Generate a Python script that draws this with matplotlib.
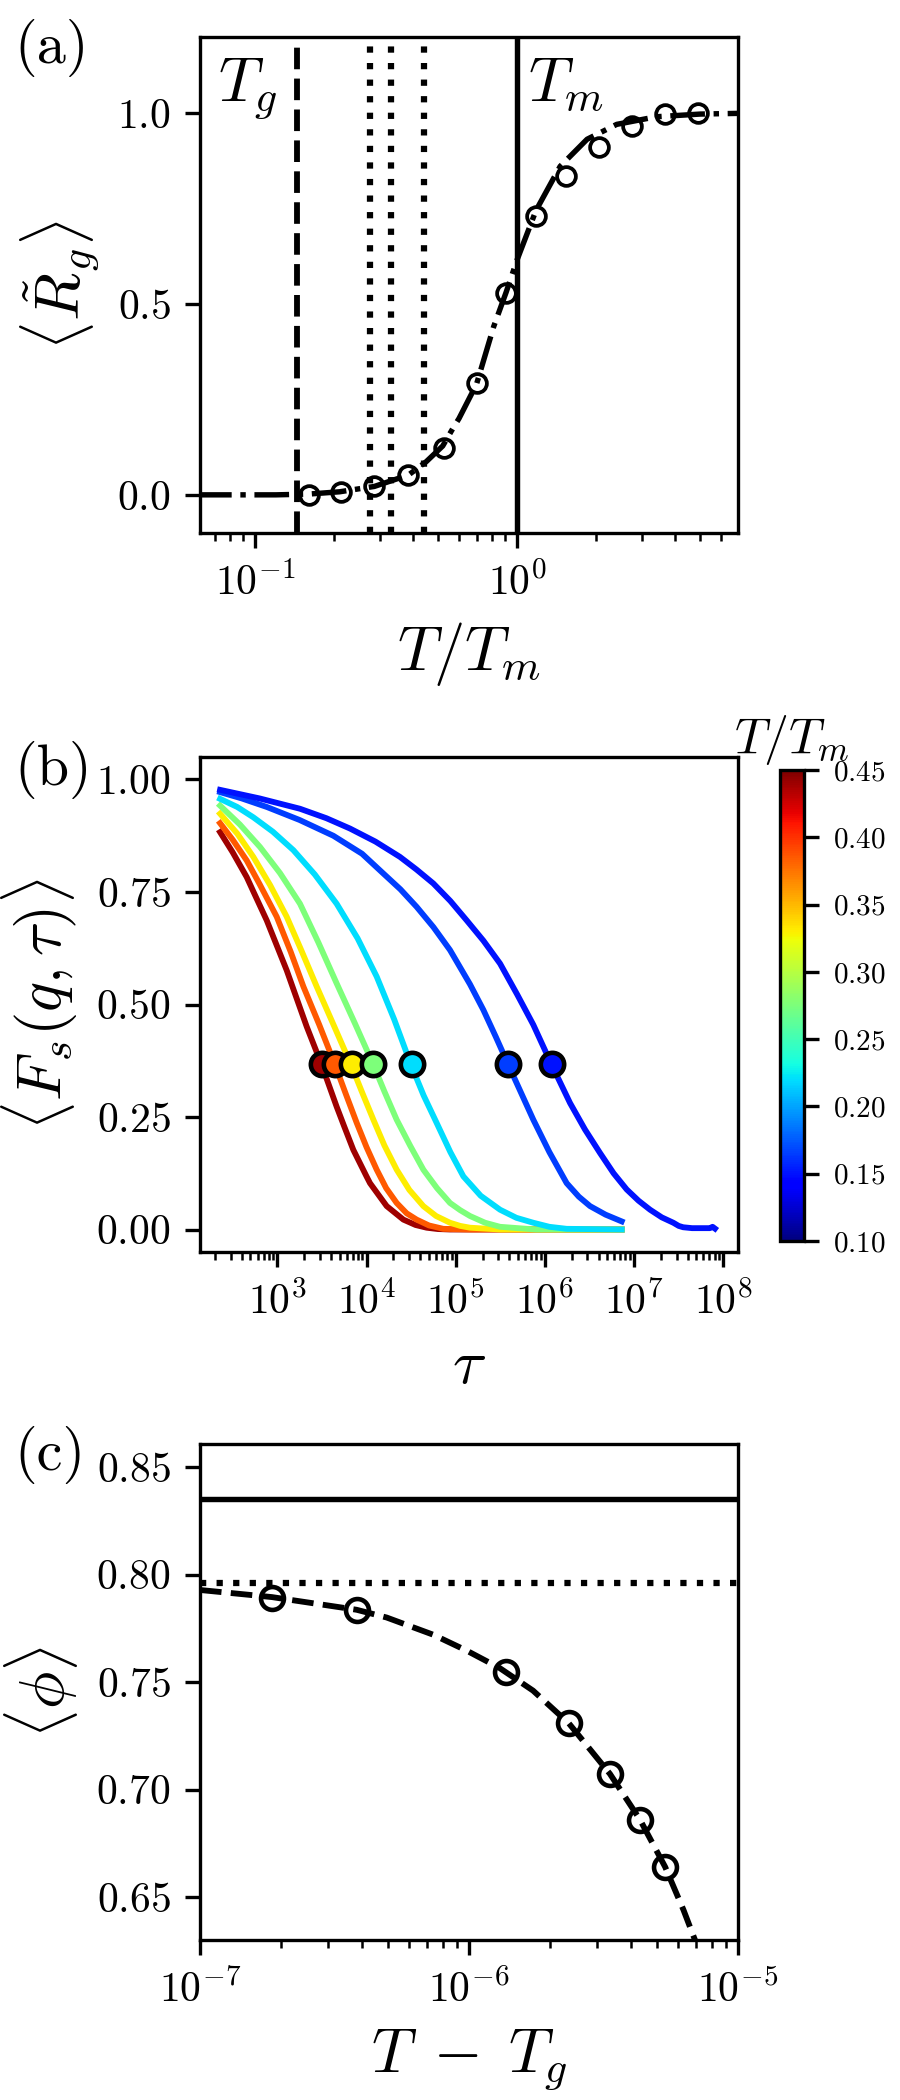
import numpy as np
import matplotlib
matplotlib.use("Agg")
import matplotlib.pyplot as plt
from matplotlib.ticker import MultipleLocator, LogLocator, NullFormatter
from matplotlib.colors import Normalize
from matplotlib.cm import ScalarMappable

plt.rcParams.update({
    "font.family": "serif",
    "font.serif": ["cmr10"],
    "mathtext.fontset": "cm",
    "axes.formatter.use_mathtext": True,
    "axes.unicode_minus": True,
    "xtick.labelsize": 10,
    "ytick.labelsize": 10,
})

# ---------------- panel (a) data ----------------
T_ratio = [0.161, 0.213, 0.285, 0.385, 0.524, 0.703, 0.907, 1.176, 1.54, 2.06, 2.75, 3.68, 4.91]
Rg_mean = [0.0, 0.008, 0.022, 0.053, 0.124, 0.292, 0.529, 0.730, 0.835, 0.912, 0.968, 0.997, 1.0]
fit_T = [0.06, 0.12, 0.16, 0.21, 0.285, 0.385, 0.45, 0.52, 0.573, 0.60, 0.70, 0.814, 0.907,
         1.0, 1.18, 1.46, 1.85, 2.4, 3.4, 5.0, 7.2]
fit_Rg = [0.0, 0.0, 0.002, 0.008, 0.022, 0.052, 0.087, 0.128, 0.178, 0.200, 0.290, 0.441, 0.530,
          0.616, 0.745, 0.861, 0.932, 0.971, 0.991, 0.998, 1.0]
T_glass = 0.145
T_melt = 1.0
T_selected = [0.275, 0.33, 0.44]

# ---------------- panel (b) data ----------------
T_curves = [0.44, 0.385, 0.33, 0.275, 0.22, 0.165, 0.15]
tau_alpha = [3150, 4440, 6820, 11900, 32100, 3.9e5, 1.19e6]
F_alpha = [0.368, 0.368, 0.368, 0.368, 0.368, 0.368, 0.368]

logtau_044 = [2.358, 2.5, 2.657, 2.75, 2.881, 3.0, 3.105, 3.25, 3.329, 3.497, 3.665, 3.75, 3.852,
              4.0, 4.039, 4.226, 4.413, 4.55, 4.674, 4.8, 4.936, 5.5, 6.2, 6.86]
F_044 = [0.883, 0.838, 0.783, 0.743, 0.687, 0.628, 0.576, 0.495, 0.451, 0.366, 0.273, 0.229, 0.177,
         0.118, 0.103, 0.052, 0.022, 0.010, 0.004, 0.001, 0.0, 0.0, 0.0, 0.0]

logtau_0385 = [2.358, 2.5, 2.657, 2.8, 2.993, 3.15, 3.292, 3.47, 3.647, 3.77, 3.890, 4.0, 4.114,
               4.22, 4.338, 4.45, 4.562, 4.7, 4.861, 5.16, 6.0, 6.86]
F_0385 = [0.903, 0.866, 0.820, 0.768, 0.695, 0.617, 0.540, 0.455, 0.366, 0.300, 0.237, 0.183, 0.133,
          0.092, 0.059, 0.036, 0.022, 0.009, 0.0015, 0.0, 0.0, 0.0]

logtau_033 = [2.358, 2.55, 2.731, 2.92, 3.105, 3.27, 3.441, 3.63, 3.826, 3.95, 4.077, 4.2, 4.338,
              4.48, 4.637, 4.78, 4.936, 5.05, 5.16, 5.5, 6.86]
F_033 = [0.924, 0.880, 0.828, 0.765, 0.695, 0.620, 0.540, 0.455, 0.366, 0.305, 0.244, 0.187, 0.133,
         0.088, 0.052, 0.030, 0.015, 0.008, 0.004, 0.0, 0.0]

logtau_0275 = [2.358, 2.58, 2.806, 3.03, 3.254, 3.46, 3.665, 3.87, 4.077, 4.2, 4.338, 4.49, 4.637,
               4.79, 4.936, 5.05, 5.16, 5.33, 5.497, 5.9, 6.86]
F_0275 = [0.942, 0.900, 0.850, 0.792, 0.724, 0.638, 0.547, 0.458, 0.366, 0.307, 0.244, 0.186, 0.133,
          0.092, 0.059, 0.043, 0.030, 0.015, 0.006, 0.0, 0.0]

logtau_022 = [2.358, 2.55, 2.731, 2.95, 3.180, 3.42, 3.665, 3.9, 4.114, 4.31, 4.499, 4.64, 4.786,
              4.94, 5.086, 5.28, 5.497, 5.68, 5.870, 6.05, 6.244, 6.861]
F_022 = [0.957, 0.939, 0.916, 0.884, 0.843, 0.789, 0.724, 0.647, 0.562, 0.467, 0.366, 0.298, 0.237,
         0.172, 0.118, 0.075, 0.044, 0.026, 0.015, 0.006, 0.0015, 0.0]

logtau_0165 = [2.358, 2.6, 2.881, 3.25, 3.628, 3.95, 4.189, 4.38, 4.562, 4.75, 4.936, 5.16, 5.310,
               5.45, 5.590, 5.73, 5.870, 6.05, 6.244, 6.38, 6.506, 6.68, 6.861]
F_0165 = [0.972, 0.958, 0.939, 0.910, 0.875, 0.835, 0.791, 0.756, 0.717, 0.672, 0.621, 0.545, 0.488,
          0.428, 0.366, 0.305, 0.244, 0.172, 0.103, 0.073, 0.052, 0.033, 0.018]

logtau_015 = [2.358, 2.8, 3.254, 3.55, 3.815, 4.1, 4.375, 4.56, 4.749, 4.94, 5.123, 5.31, 5.497,
              5.69, 5.870, 6.076, 6.282, 6.45, 6.618, 6.77, 6.917, 7.05, 7.179, 7.31, 7.440,
              7.50, 7.55, 7.65, 7.85, 7.88, 7.907]
F_015 = [0.977, 0.958, 0.935, 0.914, 0.891, 0.862, 0.828, 0.800, 0.769, 0.730, 0.687, 0.642, 0.591,
         0.522, 0.455, 0.366, 0.281, 0.222, 0.170, 0.125, 0.089, 0.064, 0.044, 0.027, 0.015,
         0.008, 0.005, 0.003, 0.003, 0.006, 0.002]

curves_logtau = [logtau_044, logtau_0385, logtau_033, logtau_0275, logtau_022, logtau_0165, logtau_015]
curves_F = [F_044, F_0385, F_033, F_0275, F_022, F_0165, F_015]
cbar_ticks = [0.10, 0.15, 0.20, 0.25, 0.30, 0.35, 0.40, 0.45]

# ---------------- panel (c) data ----------------
dT = [1.85e-7, 3.82e-7, 1.37e-6, 2.35e-6, 3.34e-6, 4.32e-6, 5.36e-6]
phi = [0.789, 0.7836, 0.7545, 0.7308, 0.7073, 0.686, 0.664]
fit_dT = [1.0e-7, 1.85e-7, 3.82e-7, 4.94e-7, 7.36e-7, 9.8e-7, 1.30e-6, 1.73e-6, 2.35e-6,
          3.34e-6, 4.32e-6, 5.36e-6, 6.27e-6, 6.92e-6, 7.3e-6]
fit_phi = [0.7928, 0.7895, 0.7836, 0.780, 0.772, 0.7646, 0.7565, 0.746, 0.7308,
           0.7073, 0.686, 0.664, 0.644, 0.630, 0.620]
phi_solid = 0.835
phi_dotted = 0.796

# ---------------- figure ----------------
fig = plt.figure(figsize=(3, 7), dpi=300)
W, H = 900.0, 2100.0

def frame(x0, y0, x1, y1):
    return [x0 / W, 1 - y1 / H, (x1 - x0) / W, (y1 - y0) / H]

axa = fig.add_axes(frame(200, 37, 738, 533))
axb = fig.add_axes(frame(200, 757, 738, 1252))
axc = fig.add_axes(frame(200, 1444, 738, 1940))
cax = fig.add_axes(frame(780, 770, 804, 1241))

def log_ticks(ax):
    ax.xaxis.set_major_locator(LogLocator(base=10, numticks=20))
    ax.xaxis.set_minor_locator(LogLocator(base=10, subs=np.arange(2, 10), numticks=20))
    ax.xaxis.set_minor_formatter(NullFormatter())

# ----- (a) -----
axa.set_xscale("log")
axa.axvline(T_glass, color="k", ls="--", lw=1.4)
for t in T_selected:
    axa.axvline(t, color="k", ls=":", lw=1.5)
axa.axvline(T_melt, color="k", ls="-", lw=1.3)
axa.plot(fit_T, fit_Rg, color="k", ls="-.", lw=1.3)
axa.plot(T_ratio, Rg_mean, ls="none", marker="o", ms=4.5, mew=0.9,
         mfc="none", mec="k")
axa.set_xlim(0.0616, 6.97)
axa.set_ylim(-0.1, 1.2)
log_ticks(axa)
axa.yaxis.set_major_locator(MultipleLocator(0.5))
axa.set_xlabel(r"$T/T_m$", fontsize=15)
axa.set_ylabel(r"$\langle \tilde{R}_g \rangle$", fontsize=15)
axa.text(0.072, 1.035, r"$T_g$", fontsize=15, ha="left", va="baseline")
axa.text(1.10, 1.035, r"$T_m$", fontsize=15, ha="left", va="baseline")

# ----- (b) -----
cmap = plt.get_cmap("jet")
norm = Normalize(vmin=0.10, vmax=0.45)
axb.set_xscale("log")
for T, lt, F in zip(T_curves, curves_logtau, curves_F):
    axb.plot(10 ** np.array(lt), F, color=cmap(norm(T)), lw=1.4, zorder=2,
             solid_joinstyle="round")
for T, ta, fa in zip(T_curves, tau_alpha, F_alpha):
    axb.plot([ta], [fa], ls="none", marker="o", ms=5.6, mew=1.1,
             mfc=cmap(norm(T)), mec="k", zorder=3)
axb.set_xlim(10 ** 2.133, 10 ** 8.165)
axb.set_ylim(-0.05, 1.05)
log_ticks(axb)
axb.yaxis.set_major_locator(MultipleLocator(0.25))
axb.set_xlabel(r"$\tau$", fontsize=15)
axb.set_ylabel(r"$\langle F_s(q,\tau) \rangle$", fontsize=15)

sm = ScalarMappable(norm=norm, cmap=cmap)
cb = fig.colorbar(sm, cax=cax, ticks=cbar_ticks)
cb.ax.tick_params(labelsize=7)
cb.ax.set_title(r"$T/T_m$", fontsize=12, pad=4)

# ----- (c) -----
axc.set_xscale("log")
axc.axhline(phi_solid, color="k", ls="-", lw=1.3)
axc.axhline(phi_dotted, color="k", ls=":", lw=1.5)
axc.plot(fit_dT, fit_phi, color="k", ls="--", lw=1.4)
axc.plot(dT, phi, ls="none", marker="o", ms=5.5, mew=1.1, mfc="none", mec="k")
axc.set_xlim(1e-7, 1e-5)
axc.set_ylim(0.63, 0.8607)
log_ticks(axc)
axc.yaxis.set_major_locator(MultipleLocator(0.05))
axc.set_xlabel(r"$T\;-\;T_g$", fontsize=15)
axc.set_ylabel(r"$\langle \phi \rangle$", fontsize=15)

# panel labels
fig.text(0.016, 0.991, "(a)", fontsize=14, ha="left", va="top")
fig.text(0.016, 0.647, "(b)", fontsize=14, ha="left", va="top")
fig.text(0.016, 0.321, "(c)", fontsize=14, ha="left", va="top")

fig.savefig("out.png", dpi=300)
